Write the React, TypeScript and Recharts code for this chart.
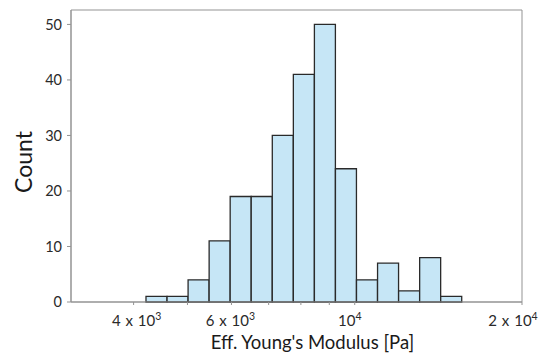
import React from "react";
import { ComposedChart, Bar, XAxis, YAxis, ReferenceArea } from "recharts";

// Bin edges (Pa), log-spaced histogram bins
const binEdges = [4210, 4595, 5013, 5470, 5968, 6512, 7106, 7754, 8461, 9232, 10073, 10992, 11994, 13087, 14280, 15582];
// Counts per bin
const counts = [1, 1, 4, 11, 19, 19, 30, 41, 50, 24, 4, 7, 2, 8, 1];

const xDomain = [3086, 20000];
const yDomain = [0, 52.6];
const xTicks = [4000, 5000, 6000, 7000, 8000, 9000, 10000, 20000];
const xTickLabels: Record<number, [string, string]> = {
  4000: ["4 x 10", "3"],
  6000: ["6 x 10", "3"],
  10000: ["10", "4"],
  20000: ["2 x 10", "4"],
};
const yTicks = [0, 10, 20, 30, 40, 50];
const xLabel = "Eff. Young's Modulus [Pa]";
const yLabel = "Count";

const data = counts.map((c, i) => ({
  mid: Math.sqrt(binEdges[i] * binEdges[i + 1]),
  count: c,
}));

const FONT = "Lato, 'Open Sans', sans-serif";
const AXIS = "#939393";
const X_TICK_SIZE = 3;
const X_TICK_MARGIN = 10;
const labelShift: Record<number, number> = { 4000: 3, 6000: -1, 10000: -5, 20000: -9 };

const XTick = (props: any) => {
  const { x, y, payload } = props;
  const v = payload.value;
  const lab = xTickLabels[v];
  return (
    <g>
      <line
        x1={x}
        x2={x}
        y1={y - X_TICK_MARGIN - X_TICK_SIZE}
        y2={y - X_TICK_MARGIN}
        stroke={AXIS}
        strokeWidth={1}
      />
      {lab && (
        <text
          x={x + (labelShift[v] || 0)}
          y={y + 11}
          textAnchor="middle"
          fontFamily={FONT}
          fontSize={15}
          fill="#2a2a2a"
          style={{ wordSpacing: 1 }}
        >
          {lab[0]}
          <tspan dy={-6} fontSize={10.5}>
            {lab[1]}
          </tspan>
        </text>
      )}
    </g>
  );
};

const XLabel = (props: any) => {
  const vb = props.viewBox;
  return (
    <text
      x={vb.x + vb.width / 2 + 16}
      y={vb.y + vb.height - 6}
      textAnchor="middle"
      fontFamily={FONT}
      fontSize={18.5}
      fill="#1a1a1a"
    >
      {xLabel}
    </text>
  );
};

const YLabel = (props: any) => {
  const vb = props.viewBox;
  const x = vb.x + 11;
  const y = vb.y + vb.height / 2 + 6;
  return (
    <text
      x={x}
      y={y}
      transform={`rotate(-90, ${x}, ${y})`}
      textAnchor="middle"
      fontFamily={FONT}
      fontSize={23}
      fill="#1a1a1a"
    >
      {yLabel}
    </text>
  );
};

export default function App() {
  return (
    <div style={{ position: "absolute", left: 0, top: 0, width: 542, height: 355, background: "#fff" }}>
      <ComposedChart
        width={542}
        height={355}
        data={data}
        margin={{ top: 10, right: 20, left: 21, bottom: 0 }}
        barCategoryGap={0}
        barGap={0}
      >
        <XAxis
          dataKey="mid"
          type="number"
          scale="log"
          domain={xDomain}
          ticks={xTicks}
          interval={0}
          height={53}
          axisLine={{ stroke: AXIS, strokeWidth: 1 }}
          tickLine={false}
          tickSize={X_TICK_SIZE}
          tickMargin={X_TICK_MARGIN}
          tick={(p: any) => <XTick {...p} />}
          label={(p: any) => <XLabel {...p} />}
        />
        <YAxis
          type="number"
          domain={yDomain}
          ticks={yTicks}
          interval={0}
          width={50}
          axisLine={{ stroke: AXIS, strokeWidth: 1 }}
          tickLine={{ stroke: AXIS, strokeWidth: 1 }}
          tickSize={4}
          tickMargin={5}
          tick={{ fontFamily: FONT, fontSize: 14.5, fill: "#2a2a2a" }}
          label={(p: any) => <YLabel {...p} />}
        />
        <ReferenceArea
          x1={xDomain[0]}
          x2={xDomain[1]}
          y1={yDomain[0]}
          y2={yDomain[1]}
          fill="none"
          fillOpacity={0}
          stroke={AXIS}
          strokeWidth={1}
          strokeOpacity={1}
        />
        <Bar
          dataKey="count"
          fill="#c6e6f6"
          stroke="#2a2a2a"
          strokeWidth={1.3}
          isAnimationActive={false}
        />
      </ComposedChart>
    </div>
  );
}
